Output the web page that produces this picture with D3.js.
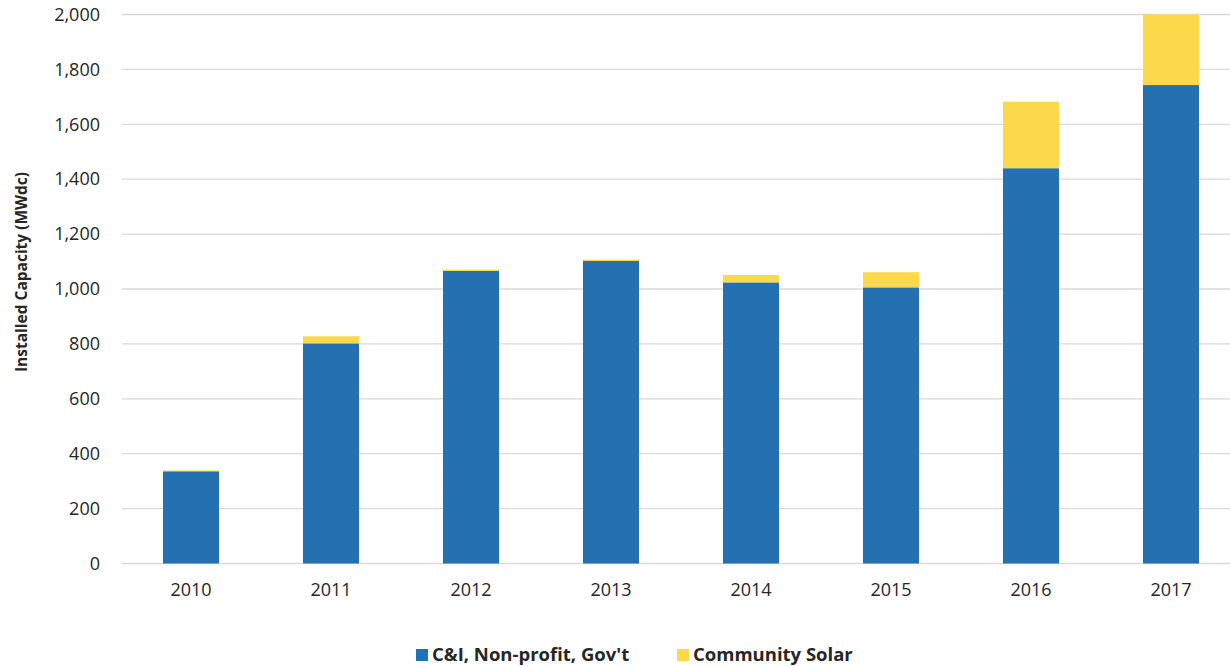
<!DOCTYPE html>
<html>
<head>
<meta charset="utf-8">
<style>
    body { margin: 0; background: #fff; }
    text { font-family: "Open Sans", "Noto Sans", sans-serif; fill: #262626; }
</style>
</head>
<body>
<div id="chart"></div>
<script src="https://d3js.org/d3.v7.min.js"></script>
<script>
    // Installed capacity by year, two stacked series
    var years = ["2010", "2011", "2012", "2013", "2014", "2015", "2016", "2017"];
    var ciValues = [336, 802, 1066, 1102, 1024, 1006, 1440, 1743];
    var communityValues = [3, 26, 5, 5, 27, 55, 242, 257];
    var yTicks = [0, 200, 400, 600, 800, 1000, 1200, 1400, 1600, 1800, 2000];
    var seriesNames = ["C&I, Non-profit, Gov't", "Community Solar"];
    var seriesColors = ["#2470b0", "#fcd94a"];

    var width = 1230,
        height = 667;

    var svg = d3.select("#chart").append("svg")
        .attr("width", width)
        .attr("height", height);

    var x = d3.scaleBand()
        .domain(years)
        .range([121, 1241])
        .paddingInner(0.6)
        .paddingOuter(0.3);

    var y = d3.scaleLinear()
        .domain([0, 2000])
        .range([563.5, 14.5]);

    // gridlines
    svg.append("g")
        .selectAll("line")
        .data(yTicks)
        .enter().append("line")
        .attr("x1", 122)
        .attr("x2", width)
        .attr("y1", d => y(d))
        .attr("y2", d => y(d))
        .attr("stroke", "#d9d9d9")
        .attr("stroke-width", 1.3);

    // y axis labels
    var yAxis = svg.append("g")
        .attr("transform", "translate(100,0)")
        .call(d3.axisLeft(y).tickValues(yTicks).tickSize(0).tickPadding(0).tickFormat(d3.format(",")));
    yAxis.select(".domain").remove();
    yAxis.selectAll("text")
        .style("font-size", "18px")
        .style("fill", "#262626");

    // stacked bars
    var table = years.map(function(yr, i) {
        return { year: yr, ci: ciValues[i], community: communityValues[i] };
    });
    var stacked = d3.stack().keys(["ci", "community"])(table);

    svg.append("g")
        .selectAll("g")
        .data(stacked)
        .enter().append("g")
        .attr("fill", (d, i) => seriesColors[i])
        .selectAll("rect")
        .data(d => d)
        .enter().append("rect")
        .attr("x", d => x(d.data.year))
        .attr("width", x.bandwidth())
        .attr("y", d => y(d[1]))
        .attr("height", d => y(d[0]) - y(d[1]));

    // x axis labels
    var xAxis = svg.append("g")
        .attr("transform", "translate(0,563.5)")
        .call(d3.axisBottom(x).tickSize(0).tickPadding(20));
    xAxis.select(".domain").remove();
    xAxis.selectAll("text")
        .style("font-size", "18px")
        .style("fill", "#262626");

    // y axis title
    svg.append("text")
        .attr("transform", "translate(27,272) rotate(-90)")
        .attr("text-anchor", "middle")
        .style("font-size", "15.5px")
        .style("font-weight", "bold")
        .text("Installed Capacity (MWdc)");

    // legend
    var legendX = [416, 677];
    var legend = svg.append("g")
        .selectAll("g")
        .data(seriesNames)
        .enter().append("g")
        .attr("transform", (d, i) => "translate(" + legendX[i] + ",649)");
    legend.append("rect")
        .attr("width", 12)
        .attr("height", 12)
        .attr("fill", (d, i) => seriesColors[i]);
    legend.append("text")
        .attr("x", 16)
        .attr("y", 12)
        .style("font-size", "18.5px")
        .style("font-weight", "bold")
        .text(d => d);
</script>
</body>
</html>
